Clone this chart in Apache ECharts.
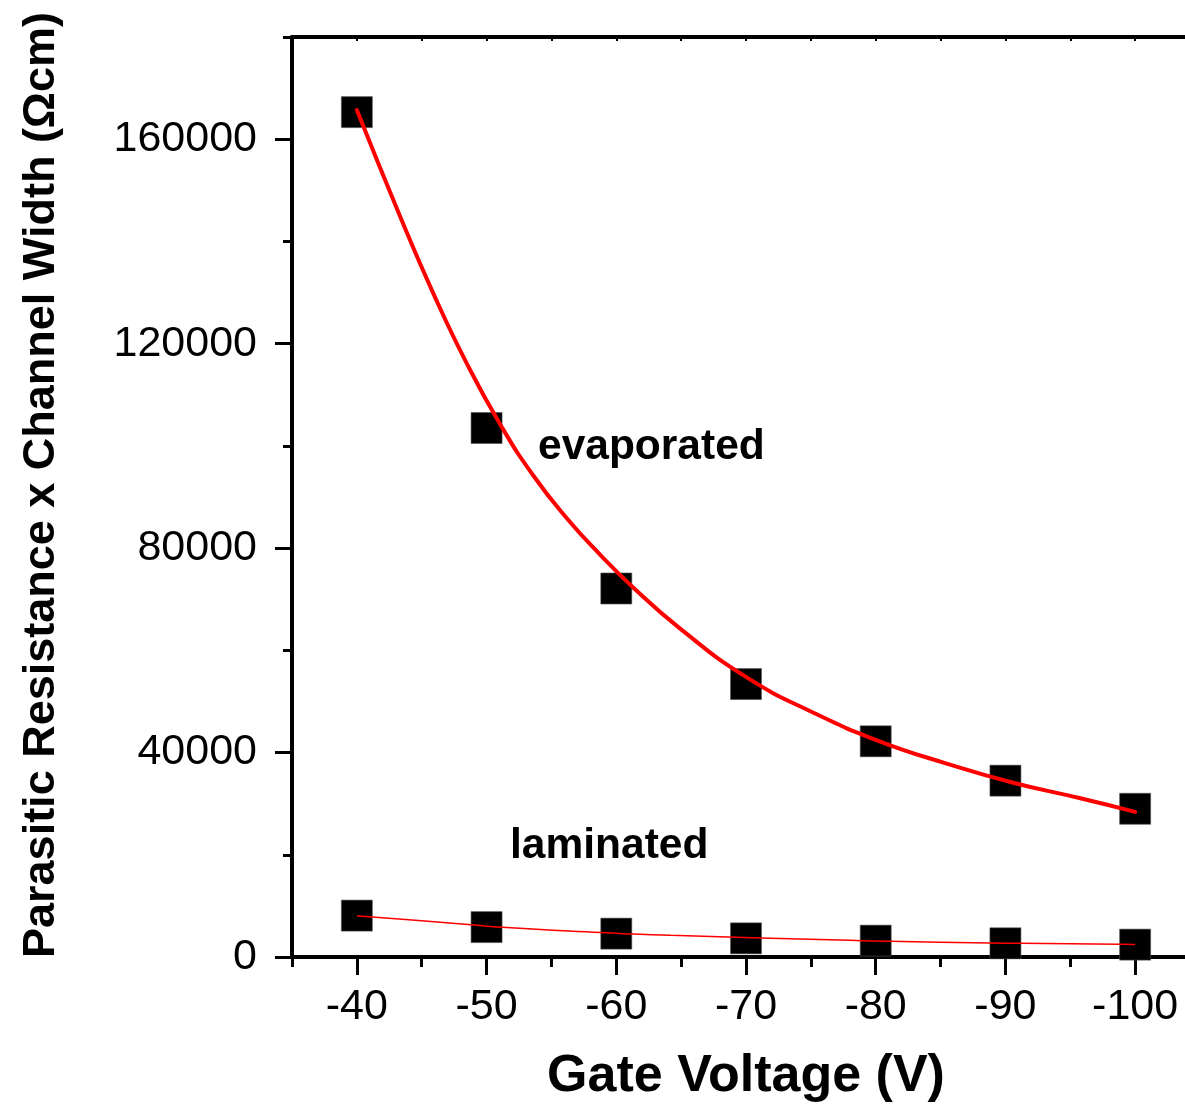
<!DOCTYPE html>
<html>
<head>
<meta charset="utf-8">
<script src="https://cdn.jsdelivr.net/npm/echarts@6/dist/echarts.min.js"></script>
<style>
html,body{margin:0;padding:0;background:#fff;}
#c{width:1185px;height:1109px;}
</style>
</head>
<body>
<div id="c"></div>
<script>
// ---- data ----
var gateVoltage = [-40, -50, -60, -70, -80, -90, -100];
var evaporated = [165300, 103500, 72100, 53400, 42200, 34500, 29000];
var laminated = [8100, 5850, 4570, 3650, 3200, 2680, 2420];

var evapFitV = [-40, -43.4, -45.9, -48.5, -51.1, -53.6, -56.2, -58.8, -61.3, -64.9, -70, -75.2, -80.3, -85.4, -90.6, -95.7, -100];
var evapFitR = [165700, 144500, 129800, 116000, 104000, 94200, 85800, 78600, 72300, 64300, 54800, 47800, 42200, 37900, 34100, 31100, 28400];

var lamFitV = [-40, -41.2, -48.8, -51.2, -58.8, -61.3, -64.2, -78, -81.1, -88.8, -91.2, -98.8, -100];
var lamFitR = [8090, 7820, 6330, 5810, 4770, 4500, 4240, 3260, 3070, 2740, 2680, 2480, 2440];

var xMajorTicks = [-40, -50, -60, -70, -80, -90, -100];
var xMinorTicks = [-35, -45, -55, -65, -75, -85, -95, -105];
var xTopTicks = [-40, -45, -50, -55, -60, -65, -70, -75, -80, -85, -90, -95, -100];
var yMajorTicks = [0, 40000, 80000, 120000, 160000];
var yMinorTicks = [20000, 60000, 100000, 140000, 180000];

var FONT = "'Liberation Sans', Arial, Helvetica, sans-serif";

function pairs(xs, ys) { return xs.map(function (x, i) { return [x, ys[i]]; }); }

var chart = echarts.init(document.getElementById('c'), null, {renderer: 'canvas'});

var xBase = {
  type: 'value', min: -105, max: -35, inverse: true, gridIndex: 0,
  splitLine: {show: false}, minorTick: {show: false}
};
var yBase = {
  type: 'value', min: 0, max: 180000, gridIndex: 0,
  splitLine: {show: false}, minorTick: {show: false}
};

var option = {
  animation: false,
  backgroundColor: '#fff',
  grid: {left: 292, top: 37, width: 908, height: 920, containLabel: false, outerBoundsMode: 'none'},
  xAxis: [
    Object.assign({}, xBase, {
      position: 'bottom',
      name: 'Gate Voltage (V)', nameLocation: 'middle', nameGap: 94,
      nameTextStyle: {fontFamily: FONT, fontSize: 52, fontWeight: 'bold', color: '#000'},
      axisLine: {show: true, onZero: false, lineStyle: {color: '#000', width: 4}},
      axisTick: {show: true, inside: false, length: 18, lineStyle: {color: '#000', width: 3}, customValues: xMajorTicks},
      axisLabel: {show: true, margin: 29, fontFamily: FONT, fontSize: 43, color: '#000', customValues: xMajorTicks,
        formatter: function (v) { return String(v); }}
    }),
    Object.assign({}, xBase, {
      position: 'bottom',
      axisLine: {show: false},
      axisTick: {show: true, inside: false, length: 10, lineStyle: {color: '#000', width: 3}, customValues: xMinorTicks},
      axisLabel: {show: false}
    }),
    Object.assign({}, xBase, {
      position: 'top',
      axisLine: {show: true, onZero: false, lineStyle: {color: '#000', width: 4}},
      axisTick: {show: true, inside: true, length: 4, lineStyle: {color: '#000', width: 2}, customValues: xTopTicks},
      axisLabel: {show: false}
    })
  ],
  yAxis: [
    Object.assign({}, yBase, {
      position: 'left',
      name: 'Parasitic Resistance x Channel Width (\u03A9cm)', nameLocation: 'middle', nameGap: 228,
      nameTextStyle: {fontFamily: FONT, fontSize: 45, fontWeight: 'bold', color: '#000', padding: [0, 0, 0, 24]},
      axisLine: {show: true, onZero: false, lineStyle: {color: '#000', width: 4}},
      axisTick: {show: true, inside: false, length: 17, lineStyle: {color: '#000', width: 3}, customValues: yMajorTicks},
      axisLabel: {show: true, margin: 35, fontFamily: FONT, fontSize: 43, color: '#000', customValues: yMajorTicks,
        formatter: function (v) { return String(v); }}
    }),
    Object.assign({}, yBase, {
      position: 'left',
      axisLine: {show: false},
      axisTick: {show: true, inside: false, length: 9, lineStyle: {color: '#000', width: 3}, customValues: yMinorTicks},
      axisLabel: {show: false}
    })
  ],
  series: [
    {
      name: 'evaporated fit', type: 'line', xAxisIndex: 0, yAxisIndex: 0,
      data: pairs(evapFitV, evapFitR), smooth: 0.5, showSymbol: false, symbol: 'none',
      lineStyle: {color: '#ff0000', width: 4, cap: 'round', join: 'round'}, z: 3
    },
    {
      name: 'laminated fit', type: 'line', xAxisIndex: 0, yAxisIndex: 0,
      data: pairs(lamFitV, lamFitR), smooth: 0.5, showSymbol: false, symbol: 'none',
      lineStyle: {color: '#ff0000', width: 1.5}, z: 3
    },
    {
      name: 'evaporated', type: 'scatter', xAxisIndex: 0, yAxisIndex: 0,
      data: pairs(gateVoltage, evaporated), symbol: 'rect', symbolSize: 31,
      itemStyle: {color: '#000', opacity: 1, borderColor: '#555', borderWidth: 0.6}, z: 2
    },
    {
      name: 'laminated', type: 'scatter', xAxisIndex: 0, yAxisIndex: 0,
      data: pairs(gateVoltage, laminated), symbol: 'rect', symbolSize: 31,
      itemStyle: {color: '#000', opacity: 1, borderColor: '#555', borderWidth: 0.6}, z: 2
    }
  ],
  graphic: [
    {type: 'text', left: 538, top: 426, z: 10,
      style: {text: 'evaporated', fontFamily: FONT, fontSize: 42.5, fontWeight: 'bold', fill: '#000'}},
    {type: 'text', left: 510, top: 825, z: 10,
      style: {text: 'laminated', fontFamily: FONT, fontSize: 42.5, fontWeight: 'bold', fill: '#000'}}
  ]
};
chart.setOption(option);
</script>
</body>
</html>
